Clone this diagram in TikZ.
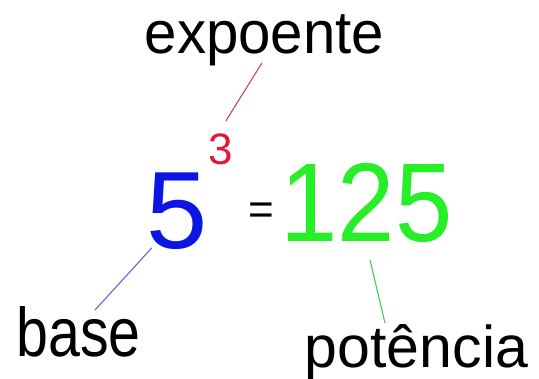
\documentclass[tikz,border=0pt]{standalone}
\usepackage{fontspec}
\setmainfont{Liberation Sans}
\definecolor{expred}{RGB}{228,24,52}
\definecolor{baseblue}{RGB}{12,22,228}
\definecolor{potgreen}{RGB}{40,238,40}
\definecolor{redline}{RGB}{205,70,90}
\definecolor{blueline}{RGB}{100,100,215}
\definecolor{greenline}{RGB}{70,200,90}
\tikzset{
  lbl/.style={inner sep=0pt, outer sep=0pt, anchor=base, text=black},
  fs/.style={font=\fontsize{#1}{#1}\selectfont},
  conn/.style={line width=1.1pt, line cap=round}
}
\begin{document}
\begin{tikzpicture}[x=1pt,y=-1pt]
\useasboundingbox (0,0) rectangle (539,379);
% labels
\node[lbl, fs=60, xscale=0.97] (expo) at (264.5,54) {expoente};
\node[lbl, fs=69, xscale=0.83] (base) at (78.5,357) {base};
\node[lbl, fs=59] (pot) at (416.5,368) {potência};
% expression
\node[lbl, fs=110, text=baseblue] (five) at (177,249) {5};
\node[lbl, fs=44, text=expred] (three) at (221,164.5) {3};
\node[lbl, fs=44] (eq) at (261,224.6) {=};
\node[lbl, fs=112, text=potgreen, xscale=0.92] (res) at (366.5,242) {125};
% connector ends
\coordinate (r1) at (261.7,63.3);
\coordinate (r2) at (226,120.7);
\coordinate (b1) at (151.7,248);
\coordinate (b2) at (95,310);
\coordinate (g1) at (370,260);
\coordinate (g2) at (385,323);
\draw[conn, redline] (r1) -- (r2);
\draw[conn, blueline] (b1) -- (b2);
\draw[conn, greenline] (g1) -- (g2);
\end{tikzpicture}
\end{document}
